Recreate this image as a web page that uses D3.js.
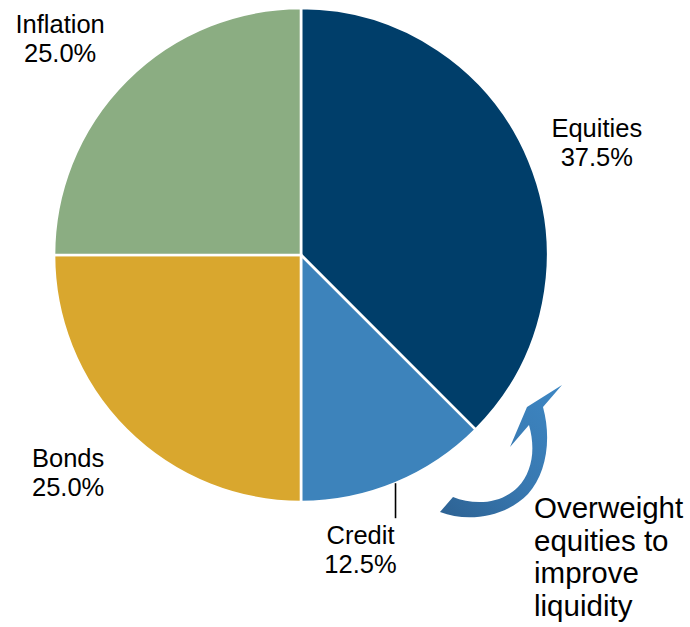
<!DOCTYPE html>
<html>
<head>
<meta charset="utf-8">
<script src="https://cdn.jsdelivr.net/npm/d3@7"></script>
<style>
  html, body { margin: 0; padding: 0; background: #ffffff; }
  svg { display: block; }
  text { font-family: "Liberation Sans", Arial, sans-serif; fill: #000; }
</style>
</head>
<body>
<div id="chart"></div>
<script>
// Portfolio allocation by asset class (%)
const categories = ["Equities", "Credit", "Bonds", "Inflation"];
const shares = [37.5, 12.5, 25.0, 25.0];
const sliceColors = ["#003e6a", "#3d83bb", "#d9a72e", "#8bad82"];
const noteLines = ["Overweight", "equities to", "improve", "liquidity"];

const width = 690, height = 627;
const cx = 301, cy = 255, radius = 247;
const labelRadius = 318;
const labelFont = 25.5, labelLineGap = 29;
// per-label offsets from the polar label anchor
const labelNudge = { Equities: [2, 4], Inflation: [-16, 3], Bonds: [-8, -13] };

const svg = d3.select("#chart").append("svg")
  .attr("width", width).attr("height", height);

const defs = svg.append("defs");
const grad = defs.append("linearGradient")
  .attr("id", "arrowGrad")
  .attr("gradientUnits", "userSpaceOnUse")
  .attr("x1", 440).attr("y1", 515).attr("x2", 560).attr("y2", 390);
grad.append("stop").attr("offset", "0%").attr("stop-color", "#2d6293");
grad.append("stop").attr("offset", "45%").attr("stop-color", "#3878b0");
grad.append("stop").attr("offset", "100%").attr("stop-color", "#3d86c2");

const color = d3.scaleOrdinal().domain(categories).range(sliceColors);

const data = categories.map((c, i) => ({ name: c, value: shares[i] }));
const pie = d3.pie().sort(null).value(d => d.value)
  .startAngle(0).endAngle(2 * Math.PI);
const arcs = pie(data);
const arc = d3.arc().innerRadius(0).outerRadius(radius);

const g = svg.append("g").attr("transform", `translate(${cx},${cy})`);

g.selectAll("path.slice")
  .data(arcs)
  .join("path")
  .attr("class", "slice")
  .attr("d", arc)
  .attr("fill", d => color(d.data.name))
  .attr("stroke", "#ffffff")
  .attr("stroke-width", 2.6)
  .attr("stroke-linejoin", "miter");

const polar = (a, r) => [r * Math.sin(a), -r * Math.cos(a)];
const fmt = v => v.toFixed(1) + "%";

arcs.forEach(d => {
  const mid = (d.startAngle + d.endAngle) / 2;
  if (d.data.name === "Credit") {
    // leader line from the rim straight down to the label
    const [ex, ey] = polar(mid, radius);
    g.append("line")
      .attr("x1", ex).attr("y1", ey)
      .attr("x2", ex).attr("y2", ey + 35)
      .attr("stroke", "#000").attr("stroke-width", 1.6);
    const t = g.append("text")
      .attr("text-anchor", "middle")
      .attr("font-size", labelFont);
    t.append("tspan").attr("x", ex - 35).attr("y", ey + 61).text(d.data.name);
    t.append("tspan").attr("x", ex - 35).attr("y", ey + 61 + labelLineGap).text(fmt(d.data.value));
  } else {
    const [lx, ly] = polar(mid, labelRadius);
    const [nx, ny] = labelNudge[d.data.name];
    const t = g.append("text")
      .attr("text-anchor", "middle")
      .attr("font-size", labelFont);
    t.append("tspan").attr("x", lx + nx).attr("y", ly + ny).text(d.data.name);
    t.append("tspan").attr("x", lx + nx).attr("y", ly + ny + labelLineGap).text(fmt(d.data.value));
  }
});

// curved arrow pointing from the credit slice up toward equities
svg.append("path")
  .attr("d",
    "M440,512 " +
    "C468,523 506,517 528,494 " +
    "C546,474 552,440 543,407 " +
    "L562,385 L527,407 L510,447 L529,425 " +
    "C536,450 532,472 518,487 " +
    "C500,505 473,505 453,497 Z")
  .attr("fill", "url(#arrowGrad)");

// annotation text
const note = svg.append("text").attr("font-size", 29.5);
noteLines.forEach((s, i) => {
  note.append("tspan").attr("x", 534).attr("y", 518 + i * 32.7).text(s);
});
</script>
</body>
</html>
